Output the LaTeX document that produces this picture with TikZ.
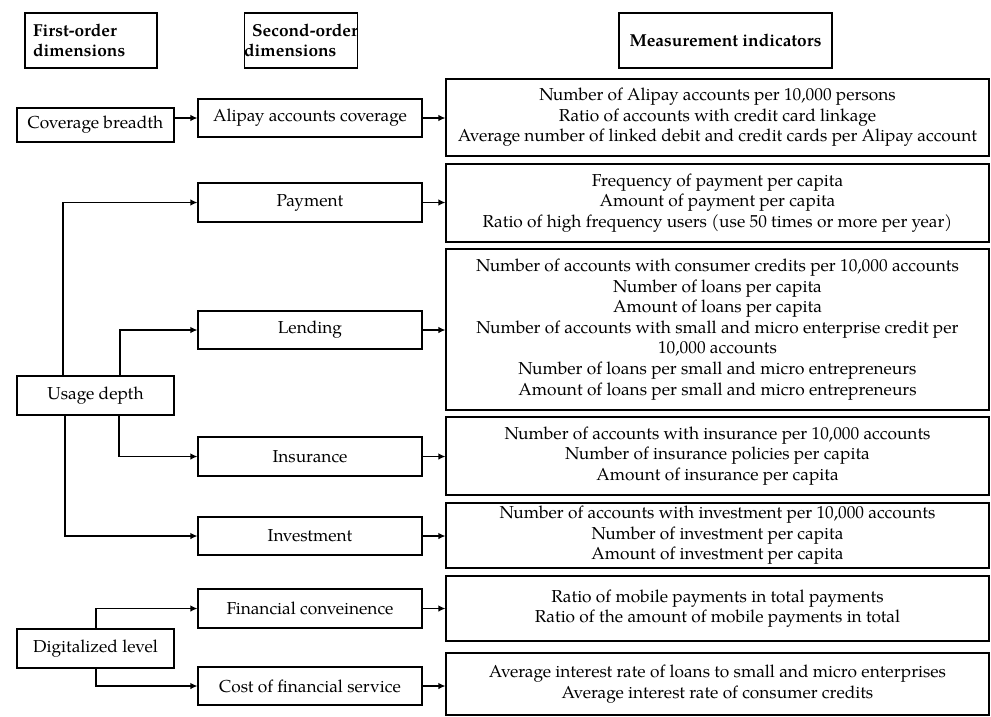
\documentclass[tikz,border=0pt]{standalone}
\usepackage{fontspec}
\setmainfont{TeX Gyre Pagella}
\usetikzlibrary{arrows.meta}
\begin{document}
\begin{tikzpicture}[x=1pt,y=-1pt,
  base/.style={draw, line width=1.2pt, inner sep=0pt, align=center, font=\fontsize{17.3}{20.6}\selectfont},
  hbox/.style={base, minimum height=55, font=\bfseries\fontsize{17.3}{20.6}\selectfont},
  fbox/.style={base, minimum width=157},
  sbox/.style={base, minimum width=224},
  mbox/.style={base, minimum width=543},
  arr/.style={line width=1.2pt, -{Latex[length=7pt,width=6.5pt]}}]
\useasboundingbox (0,0) rectangle (991,716);
% headers
\node[hbox, text width=116, inner xsep=8, align=left] (h1) at (91,40.5) {First-order\\dimensions};
\node[hbox, minimum width=112, align=left] (h2) at (301,40.5) {\hspace*{8pt}Second-order\\dimensions};
\node[hbox, minimum width=213] (h3) at (725.5,40.5) {Measurement indicators};
% first-order
\node[fbox, minimum height=34] (cov) at (95.5,125) {Coverage breadth};
\node[fbox, minimum height=39] (use) at (95.5,395.5) {Usage depth};
\node[fbox, minimum height=39] (dig) at (95.5,648.5) {Digitalized level};
% second-order
\node[sbox, minimum height=38] (ali) at (310,118) {Alipay accounts coverage};
\node[sbox, minimum height=39] (pay) at (310,202.5) {Payment};
\node[sbox, minimum height=38] (len) at (310,330) {Lending};
\node[sbox, minimum height=39] (ins) at (310,456.5) {Insurance};
\node[sbox, minimum height=38] (inv) at (310,536) {Investment};
\node[sbox, minimum height=39] (fin) at (310,608.5) {Financial conveinence};
\node[sbox, minimum height=38] (cst) at (310,686) {Cost of financial service};
% measurement
\node[mbox, minimum height=77] (m1) at (717.5,117.5) {Number of Alipay accounts per 10,000 persons\\Ratio of accounts with credit card linkage\\Average number of linked debit and credit cards per Alipay account};
\node[mbox, minimum height=78] (m2) at (717.5,203) {Frequency of payment per capita\\Amount of payment per capita\\Ratio of high frequency users (use 50 times or more per year)};
\node[mbox, minimum height=161] (m3) at (717.5,329.5) {Number of accounts with consumer credits per 10,000 accounts\\Number of loans per capita\\Amount of loans per capita\\Number of accounts with small and micro enterprise credit per\\10,000 accounts\\Number of loans per small and micro entrepreneurs\\Amount of loans per small and micro entrepreneurs};
\node[mbox, minimum height=78] (m4) at (717.5,456) {Number of accounts with insurance per 10,000 accounts\\Number of insurance policies per capita\\Amount of insurance per capita};
\node[mbox, minimum height=65] (m5) at (717.5,535.5) {Number of accounts with investment per 10,000 accounts\\Number of investment per capita\\Amount of investment per capita};
\node[mbox, minimum height=65] (m6) at (717.5,608.5) {Ratio of mobile payments in total payments\\Ratio of the amount of mobile payments in total};
\node[mbox, minimum height=62] (m7) at (717.5,684) {Average interest rate of loans to small and micro enterprises\\Average interest rate of consumer credits};
% helper x positions
\coordinate (xa) at (63,0);
\coordinate (xb) at (120,0);
\coordinate (xc) at (65,0);
\coordinate (xd) at (119,0);
\coordinate (xe) at (96,0);
% connectors first -> second
\draw[arr] (cov.east |- ali.west) -- (ali.west);
\draw[arr] (use.north -| xa) |- (pay.west);
\draw[arr] (use.north -| xb) |- (len.west);
\draw[arr] (use.south -| xd) |- (ins.west);
\draw[arr] (use.south -| xc) |- (inv.west);
\draw[arr] (dig.north -| xe) |- (fin.west);
\draw[arr] (dig.south -| xe) |- (cst.west);
% connectors second -> measurement
\draw[arr] (ali.east) -- (m1.west |- ali.east);
\draw[arr] (pay.east) -- (m2.west |- pay.east);
\draw[arr] (len.east) -- (m3.west |- len.east);
\draw[arr] (ins.east) -- (m4.west |- ins.east);
\draw[arr] (inv.east) -- (m5.west |- inv.east);
\draw[arr] (fin.east) -- (m6.west |- fin.east);
\draw[arr] (cst.east) -- (m7.west |- cst.east);
\end{tikzpicture}
\end{document}
